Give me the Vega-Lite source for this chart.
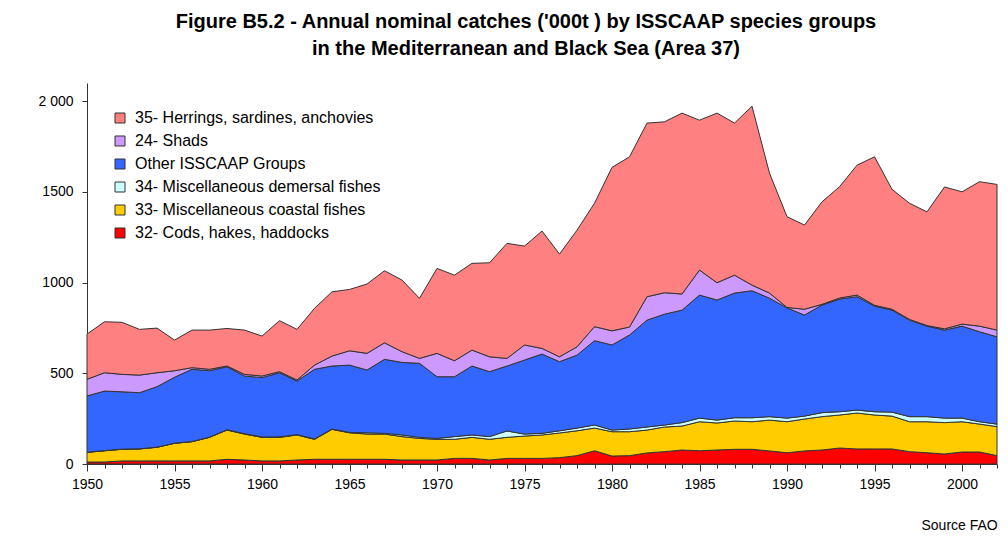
{
  "$schema": "https://vega.github.io/schema/vega-lite/v6.json",
  "width": 910,
  "height": 381,
  "autosize": {"type": "none"},
  "padding": {"left": 87, "top": 83, "right": 11, "bottom": 72},
  "background": "white",
  "title": {
    "text": ["Figure B5.2 - Annual nominal catches ('000t ) by ISSCAAP species groups", "in the Mediterranean and Black Sea (Area 37)"],
    "font": "Liberation Sans",
    "fontWeight": "bold",
    "fontSize": 20,
    "lineHeight": 27,
    "anchor": "middle",
    "dx": -16,
    "offset": 24,
    "color": "#000000"
  },
  "data": {
    "values": [
      {"yr":1950,"g":"32","v":11},{"yr":1950,"g":"33","v":53},{"yr":1950,"g":"34","v":1},{"yr":1950,"g":"OT","v":310},{"yr":1950,"g":"24","v":92},{"yr":1950,"g":"35","v":249},
      {"yr":1951,"g":"32","v":11},{"yr":1951,"g":"33","v":62},{"yr":1951,"g":"34","v":1},{"yr":1951,"g":"OT","v":328},{"yr":1951,"g":"24","v":101},{"yr":1951,"g":"35","v":281},
      {"yr":1952,"g":"32","v":17},{"yr":1952,"g":"33","v":64},{"yr":1952,"g":"34","v":1},{"yr":1952,"g":"OT","v":316},{"yr":1952,"g":"24","v":96},{"yr":1952,"g":"35","v":287},
      {"yr":1953,"g":"32","v":17},{"yr":1953,"g":"33","v":66},{"yr":1953,"g":"34","v":1},{"yr":1953,"g":"OT","v":309},{"yr":1953,"g":"24","v":97},{"yr":1953,"g":"35","v":252},
      {"yr":1954,"g":"32","v":17},{"yr":1954,"g":"33","v":75},{"yr":1954,"g":"34","v":1},{"yr":1954,"g":"OT","v":333},{"yr":1954,"g":"24","v":77},{"yr":1954,"g":"35","v":246},
      {"yr":1955,"g":"32","v":17},{"yr":1955,"g":"33","v":97},{"yr":1955,"g":"34","v":1},{"yr":1955,"g":"OT","v":363},{"yr":1955,"g":"24","v":36},{"yr":1955,"g":"35","v":169},
      {"yr":1956,"g":"32","v":17},{"yr":1956,"g":"33","v":106},{"yr":1956,"g":"34","v":1},{"yr":1956,"g":"OT","v":398},{"yr":1956,"g":"24","v":9},{"yr":1956,"g":"35","v":207},
      {"yr":1957,"g":"32","v":17},{"yr":1957,"g":"33","v":130},{"yr":1957,"g":"34","v":1},{"yr":1957,"g":"OT","v":366},{"yr":1957,"g":"24","v":8},{"yr":1957,"g":"35","v":216},
      {"yr":1958,"g":"32","v":26},{"yr":1958,"g":"33","v":161},{"yr":1958,"g":"34","v":2},{"yr":1958,"g":"OT","v":347},{"yr":1958,"g":"24","v":4},{"yr":1958,"g":"35","v":207},
      {"yr":1959,"g":"32","v":22},{"yr":1959,"g":"33","v":143},{"yr":1959,"g":"34","v":2},{"yr":1959,"g":"OT","v":318},{"yr":1959,"g":"24","v":9},{"yr":1959,"g":"35","v":244},
      {"yr":1960,"g":"32","v":17},{"yr":1960,"g":"33","v":130},{"yr":1960,"g":"34","v":2},{"yr":1960,"g":"OT","v":327},{"yr":1960,"g":"24","v":9},{"yr":1960,"g":"35","v":220},
      {"yr":1961,"g":"32","v":17},{"yr":1961,"g":"33","v":130},{"yr":1961,"g":"34","v":2},{"yr":1961,"g":"OT","v":354},{"yr":1961,"g":"24","v":6},{"yr":1961,"g":"35","v":281},
      {"yr":1962,"g":"32","v":22},{"yr":1962,"g":"33","v":138},{"yr":1962,"g":"34","v":2},{"yr":1962,"g":"OT","v":295},{"yr":1962,"g":"24","v":6},{"yr":1962,"g":"35","v":279},
      {"yr":1963,"g":"32","v":26},{"yr":1963,"g":"33","v":110},{"yr":1963,"g":"34","v":2},{"yr":1963,"g":"OT","v":384},{"yr":1963,"g":"24","v":23},{"yr":1963,"g":"35","v":313},
      {"yr":1964,"g":"32","v":26},{"yr":1964,"g":"33","v":165},{"yr":1964,"g":"34","v":2},{"yr":1964,"g":"OT","v":347},{"yr":1964,"g":"24","v":55},{"yr":1964,"g":"35","v":354},
      {"yr":1965,"g":"32","v":26},{"yr":1965,"g":"33","v":146},{"yr":1965,"g":"34","v":2},{"yr":1965,"g":"OT","v":371},{"yr":1965,"g":"24","v":79},{"yr":1965,"g":"35","v":338},
      {"yr":1966,"g":"32","v":26},{"yr":1966,"g":"33","v":139},{"yr":1966,"g":"34","v":7},{"yr":1966,"g":"OT","v":346},{"yr":1966,"g":"24","v":92},{"yr":1966,"g":"35","v":382},
      {"yr":1967,"g":"32","v":26},{"yr":1967,"g":"33","v":139},{"yr":1967,"g":"34","v":4},{"yr":1967,"g":"OT","v":408},{"yr":1967,"g":"24","v":91},{"yr":1967,"g":"35","v":397},
      {"yr":1968,"g":"32","v":22},{"yr":1968,"g":"33","v":129},{"yr":1968,"g":"34","v":9},{"yr":1968,"g":"OT","v":400},{"yr":1968,"g":"24","v":59},{"yr":1968,"g":"35","v":395},
      {"yr":1969,"g":"32","v":22},{"yr":1969,"g":"33","v":119},{"yr":1969,"g":"34","v":6},{"yr":1969,"g":"OT","v":408},{"yr":1969,"g":"24","v":27},{"yr":1969,"g":"35","v":331},
      {"yr":1970,"g":"32","v":22},{"yr":1970,"g":"33","v":114},{"yr":1970,"g":"34","v":5},{"yr":1970,"g":"OT","v":340},{"yr":1970,"g":"24","v":129},{"yr":1970,"g":"35","v":468},
      {"yr":1971,"g":"32","v":31},{"yr":1971,"g":"33","v":105},{"yr":1971,"g":"34","v":15},{"yr":1971,"g":"OT","v":330},{"yr":1971,"g":"24","v":88},{"yr":1971,"g":"35","v":472},
      {"yr":1972,"g":"32","v":31},{"yr":1972,"g":"33","v":116},{"yr":1972,"g":"34","v":13},{"yr":1972,"g":"OT","v":380},{"yr":1972,"g":"24","v":88},{"yr":1972,"g":"35","v":478},
      {"yr":1973,"g":"32","v":22},{"yr":1973,"g":"33","v":114},{"yr":1973,"g":"34","v":15},{"yr":1973,"g":"OT","v":358},{"yr":1973,"g":"24","v":82},{"yr":1973,"g":"35","v":518},
      {"yr":1974,"g":"32","v":31},{"yr":1974,"g":"33","v":116},{"yr":1974,"g":"34","v":35},{"yr":1974,"g":"OT","v":358},{"yr":1974,"g":"24","v":42},{"yr":1974,"g":"35","v":634},
      {"yr":1975,"g":"32","v":31},{"yr":1975,"g":"33","v":123},{"yr":1975,"g":"34","v":11},{"yr":1975,"g":"OT","v":408},{"yr":1975,"g":"24","v":83},{"yr":1975,"g":"35","v":545},
      {"yr":1976,"g":"32","v":31},{"yr":1976,"g":"33","v":129},{"yr":1976,"g":"34","v":9},{"yr":1976,"g":"OT","v":437},{"yr":1976,"g":"24","v":31},{"yr":1976,"g":"35","v":647},
      {"yr":1977,"g":"32","v":35},{"yr":1977,"g":"33","v":136},{"yr":1977,"g":"34","v":12},{"yr":1977,"g":"OT","v":381},{"yr":1977,"g":"24","v":27},{"yr":1977,"g":"35","v":566},
      {"yr":1978,"g":"32","v":46},{"yr":1978,"g":"33","v":137},{"yr":1978,"g":"34","v":15},{"yr":1978,"g":"OT","v":402},{"yr":1978,"g":"24","v":46},{"yr":1978,"g":"35","v":643},
      {"yr":1979,"g":"32","v":73},{"yr":1979,"g":"33","v":125},{"yr":1979,"g":"34","v":17},{"yr":1979,"g":"OT","v":465},{"yr":1979,"g":"24","v":77},{"yr":1979,"g":"35","v":680},
      {"yr":1980,"g":"32","v":44},{"yr":1980,"g":"33","v":134},{"yr":1980,"g":"34","v":9},{"yr":1980,"g":"OT","v":469},{"yr":1980,"g":"24","v":78},{"yr":1980,"g":"35","v":901},
      {"yr":1981,"g":"32","v":46},{"yr":1981,"g":"33","v":132},{"yr":1981,"g":"34","v":15},{"yr":1981,"g":"OT","v":518},{"yr":1981,"g":"24","v":44},{"yr":1981,"g":"35","v":938},
      {"yr":1982,"g":"32","v":61},{"yr":1982,"g":"33","v":126},{"yr":1982,"g":"34","v":17},{"yr":1982,"g":"OT","v":589},{"yr":1982,"g":"24","v":129},{"yr":1982,"g":"35","v":957},
      {"yr":1983,"g":"32","v":68},{"yr":1983,"g":"33","v":136},{"yr":1983,"g":"34","v":11},{"yr":1983,"g":"OT","v":611},{"yr":1983,"g":"24","v":118},{"yr":1983,"g":"35","v":942},
      {"yr":1984,"g":"32","v":77},{"yr":1984,"g":"33","v":132},{"yr":1984,"g":"34","v":19},{"yr":1984,"g":"OT","v":620},{"yr":1984,"g":"24","v":89},{"yr":1984,"g":"35","v":997},
      {"yr":1985,"g":"32","v":73},{"yr":1985,"g":"33","v":160},{"yr":1985,"g":"34","v":20},{"yr":1985,"g":"OT","v":678},{"yr":1985,"g":"24","v":138},{"yr":1985,"g":"35","v":826},
      {"yr":1986,"g":"32","v":77},{"yr":1986,"g":"33","v":149},{"yr":1986,"g":"34","v":16},{"yr":1986,"g":"OT","v":662},{"yr":1986,"g":"24","v":95},{"yr":1986,"g":"35","v":935},
      {"yr":1987,"g":"32","v":81},{"yr":1987,"g":"33","v":156},{"yr":1987,"g":"34","v":18},{"yr":1987,"g":"OT","v":687},{"yr":1987,"g":"24","v":99},{"yr":1987,"g":"35","v":838},
      {"yr":1988,"g":"32","v":81},{"yr":1988,"g":"33","v":152},{"yr":1988,"g":"34","v":22},{"yr":1988,"g":"OT","v":700},{"yr":1988,"g":"24","v":31},{"yr":1988,"g":"35","v":986},
      {"yr":1989,"g":"32","v":72},{"yr":1989,"g":"33","v":170},{"yr":1989,"g":"34","v":19},{"yr":1989,"g":"OT","v":653},{"yr":1989,"g":"24","v":28},{"yr":1989,"g":"35","v":661},
      {"yr":1990,"g":"32","v":62},{"yr":1990,"g":"33","v":171},{"yr":1990,"g":"34","v":20},{"yr":1990,"g":"OT","v":607},{"yr":1990,"g":"24","v":3},{"yr":1990,"g":"35","v":500},
      {"yr":1991,"g":"32","v":72},{"yr":1991,"g":"33","v":176},{"yr":1991,"g":"34","v":16},{"yr":1991,"g":"OT","v":557},{"yr":1991,"g":"24","v":32},{"yr":1991,"g":"35","v":464},
      {"yr":1992,"g":"32","v":77},{"yr":1992,"g":"33","v":184},{"yr":1992,"g":"34","v":22},{"yr":1992,"g":"OT","v":593},{"yr":1992,"g":"24","v":4},{"yr":1992,"g":"35","v":565},
      {"yr":1993,"g":"32","v":88},{"yr":1993,"g":"33","v":182},{"yr":1993,"g":"34","v":18},{"yr":1993,"g":"OT","v":621},{"yr":1993,"g":"24","v":6},{"yr":1993,"g":"35","v":613},
      {"yr":1994,"g":"32","v":83},{"yr":1994,"g":"33","v":198},{"yr":1994,"g":"34","v":16},{"yr":1994,"g":"OT","v":625},{"yr":1994,"g":"24","v":9},{"yr":1994,"g":"35","v":716},
      {"yr":1995,"g":"32","v":83},{"yr":1995,"g":"33","v":187},{"yr":1995,"g":"34","v":18},{"yr":1995,"g":"OT","v":582},{"yr":1995,"g":"24","v":5},{"yr":1995,"g":"35","v":818},
      {"yr":1996,"g":"32","v":83},{"yr":1996,"g":"33","v":181},{"yr":1996,"g":"34","v":22},{"yr":1996,"g":"OT","v":562},{"yr":1996,"g":"24","v":5},{"yr":1996,"g":"35","v":661},
      {"yr":1997,"g":"32","v":68},{"yr":1997,"g":"33","v":165},{"yr":1997,"g":"34","v":28},{"yr":1997,"g":"OT","v":532},{"yr":1997,"g":"24","v":4},{"yr":1997,"g":"35","v":640},
      {"yr":1998,"g":"32","v":62},{"yr":1998,"g":"33","v":171},{"yr":1998,"g":"34","v":28},{"yr":1998,"g":"OT","v":499},{"yr":1998,"g":"24","v":3},{"yr":1998,"g":"35","v":627},
      {"yr":1999,"g":"32","v":55},{"yr":1999,"g":"33","v":173},{"yr":1999,"g":"34","v":25},{"yr":1999,"g":"OT","v":485},{"yr":1999,"g":"24","v":7},{"yr":1999,"g":"35","v":782},
      {"yr":2000,"g":"32","v":66},{"yr":2000,"g":"33","v":167},{"yr":2000,"g":"34","v":20},{"yr":2000,"g":"OT","v":507},{"yr":2000,"g":"24","v":11},{"yr":2000,"g":"35","v":729},
      {"yr":2001,"g":"32","v":66},{"yr":2001,"g":"33","v":154},{"yr":2001,"g":"34","v":13},{"yr":2001,"g":"OT","v":496},{"yr":2001,"g":"24","v":31},{"yr":2001,"g":"35","v":796},
      {"yr":2002,"g":"32","v":46},{"yr":2002,"g":"33","v":160},{"yr":2002,"g":"34","v":14},{"yr":2002,"g":"OT","v":481},{"yr":2002,"g":"24","v":37},{"yr":2002,"g":"35","v":803}
    ]
  },
  "transform": [
    {"calculate": "indexof(['32','33','34','OT','24','35'], datum.g)", "as": "so"}
  ],
  "mark": {"type": "area", "stroke": "#333333", "strokeWidth": 1},
  "encoding": {
    "x": {
      "field": "yr",
      "type": "quantitative",
      "scale": {"domain": [1950, 2002], "nice": false, "zero": false},
      "axis": {
        "values": [1950,1951,1952,1953,1954,1955,1956,1957,1958,1959,1960,1961,1962,1963,1964,1965,1966,1967,1968,1969,1970,1971,1972,1973,1974,1975,1976,1977,1978,1979,1980,1981,1982,1983,1984,1985,1986,1987,1988,1989,1990,1991,1992,1993,1994,1995,1996,1997,1998,1999,2000,2001,2002],
        "format": "d",
        "labelExpr": "datum.value % 5 === 0 ? datum.label : ''",
        "labelOverlap": false,
        "labelFlush": false,
        "tickSize": {"condition": {"test": "datum.value % 5 === 0", "value": 7}, "value": 4},
        "tickColor": "#333333",
        "domainColor": "#333333",
        "grid": false,
        "labelFont": "Liberation Sans",
        "labelFontSize": 14,
        "labelColor": "#000000",
        "labelPadding": 6,
        "title": "Source FAO",
        "titleFont": "Liberation Sans",
        "titleFontSize": 14,
        "titleFontWeight": "normal",
        "titleColor": "#000000",
        "titleAlign": "left",
        "titleBaseline": "alphabetic",
        "titleX": 834,
        "titleY": 65
      }
    },
    "y": {
      "field": "v",
      "type": "quantitative",
      "stack": "zero",
      "scale": {"domain": [0, 2100], "nice": false},
      "axis": {
        "values": [0, 500, 1000, 1500, 2000],
        "labelExpr": "datum.value === 2000 ? '2 000' : datum.value + ''",
        "tickSize": 5,
        "tickColor": "#333333",
        "domainColor": "#333333",
        "grid": false,
        "labelFont": "Liberation Sans",
        "labelFontSize": 14,
        "labelColor": "#000000",
        "labelPadding": 9,
        "title": null
      }
    },
    "color": {
      "field": "g",
      "type": "nominal",
      "scale": {
        "domain": ["35", "24", "OT", "34", "33", "32"],
        "range": ["#FF8080", "#CC99FF", "#3366FF", "#CCFFFF", "#FFCC00", "#FF0000"]
      },
      "legend": {
        "orient": "none",
        "legendX": 25,
        "legendY": 27,
        "title": null,
        "padding": 0,
        "symbolType": "square",
        "symbolSize": 100,
        "symbolStrokeColor": "#333333",
        "symbolStrokeWidth": 1,
        "labelFont": "Liberation Sans",
        "labelFontSize": 16,
        "labelColor": "#000000",
        "labelOffset": 7,
        "labelLimit": 400,
        "rowPadding": 7,
        "labelExpr": "datum.value === '35' ? '35- Herrings, sardines, anchovies' : datum.value === '24' ? '24- Shads' : datum.value === 'OT' ? 'Other ISSCAAP Groups' : datum.value === '34' ? '34- Miscellaneous demersal fishes' : datum.value === '33' ? '33- Miscellaneous coastal fishes' : '32- Cods, hakes, haddocks'"
      }
    },
    "order": {"field": "so", "type": "quantitative", "sort": "ascending"}
  },
  "config": {
    "view": {"stroke": null}
  }
}
